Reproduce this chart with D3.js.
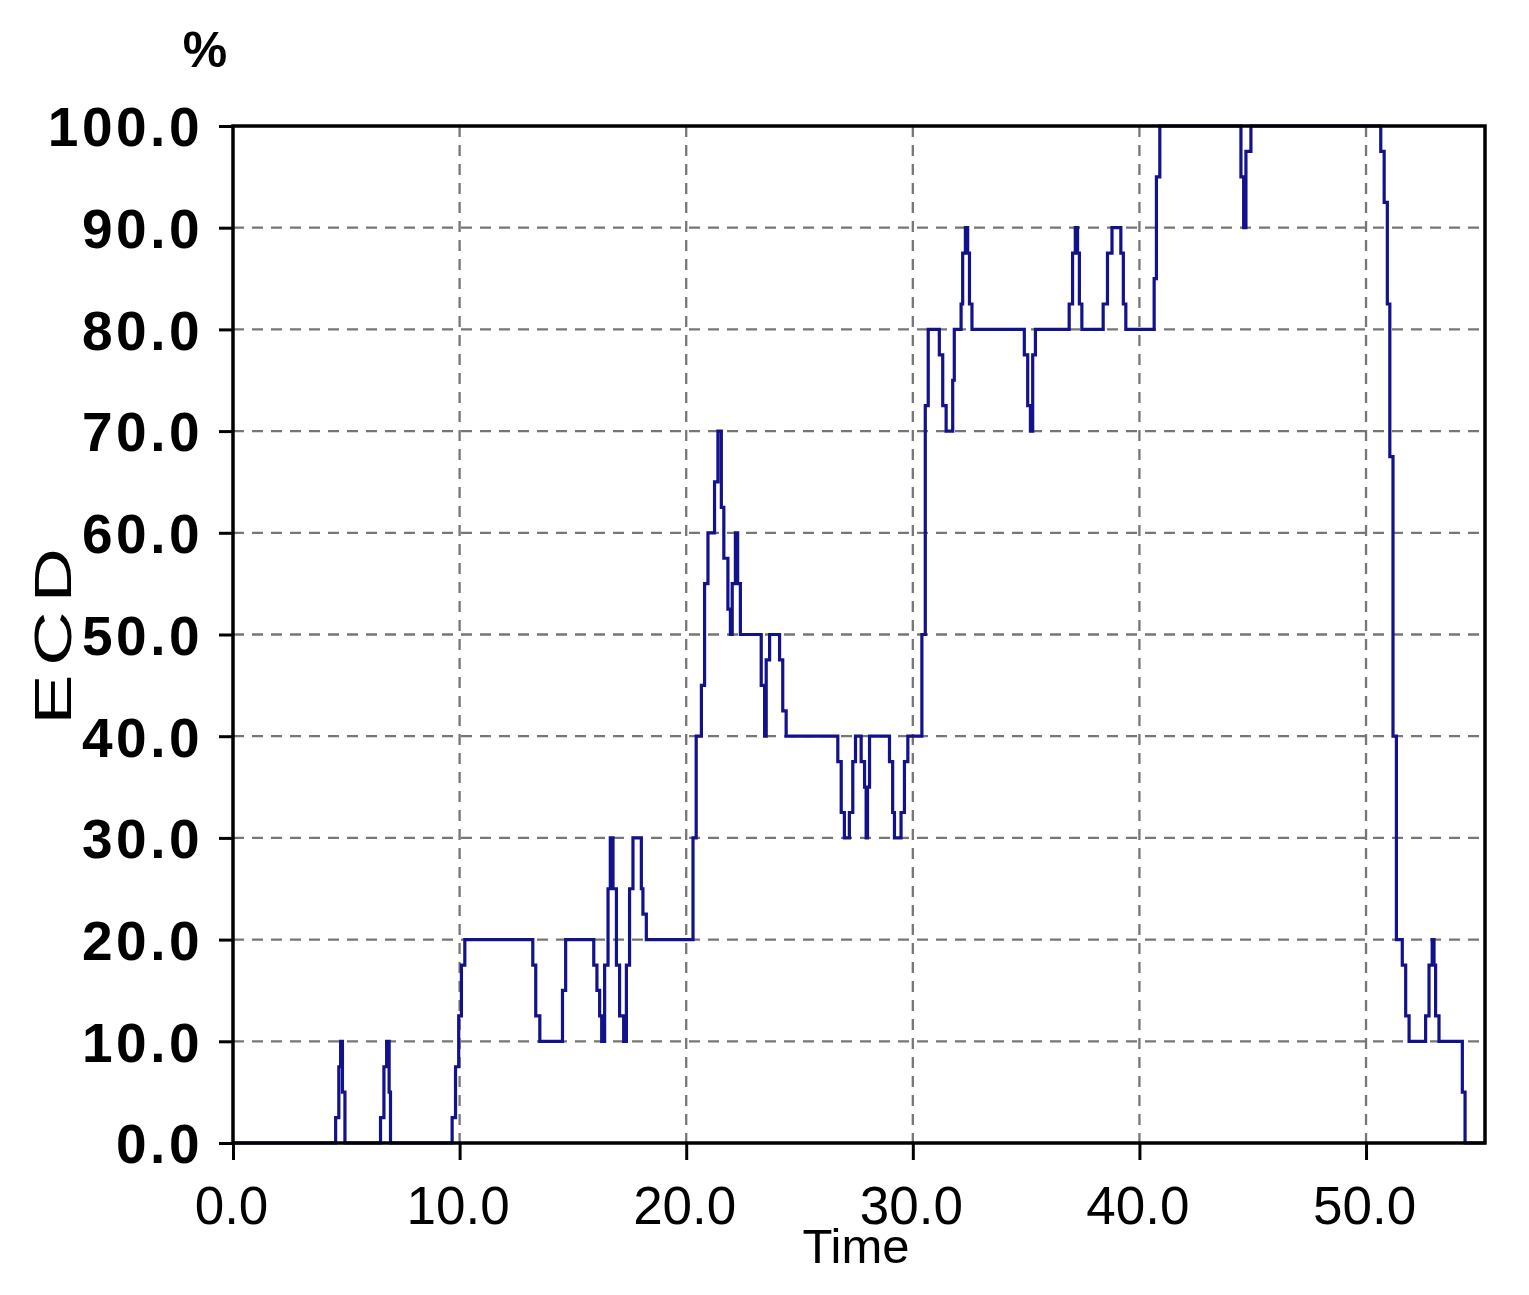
<!DOCTYPE html>
<html>
<head>
<meta charset="UTF-8">
<title>ECD over time</title>
<style>
    body { margin: 0; padding: 0; background: #fff; }
    svg { display: block; }
    .ytick text { font-family: "Liberation Sans", Arial, sans-serif; font-weight: bold; font-size: 55px; letter-spacing: 3.5px; }
    .xtick text { font-family: "Liberation Sans", Arial, sans-serif; font-size: 53px; }
</style>
</head>
<body>
<svg width="1529" height="1295"></svg>
<script src="https://d3js.org/d3.v7.min.js"></script>
<script>
// time at which the value steps to the new level
var times = [0, 4.53, 4.67, 4.75, 4.83, 4.94,
    6.51, 6.66, 6.78, 6.89, 6.95,
    9.67, 9.82, 9.96, 10.08, 10.23,
    13.23, 13.36, 13.54, 14.54, 14.68,
    15.92, 16.06, 16.18, 16.27, 16.40, 16.55, 16.65, 16.77, 16.92, 17.06, 17.24,
    17.36, 17.50, 17.65, 18.02, 18.09, 18.24,
    20.30, 20.44, 20.67, 20.81, 20.96, 21.25, 21.40, 21.55, 21.66, 21.84, 21.95,
    22.03, 22.17, 22.27, 22.39, 23.31, 23.46, 23.53, 23.68, 24.12, 24.26, 24.41,
    26.69, 26.84, 26.98, 27.20, 27.35, 27.47, 27.72, 27.87, 27.94, 28.00, 28.09,
    28.97, 29.11, 29.19, 29.48, 29.63, 29.78, 30.40, 30.55, 30.68,
    31.17, 31.32, 31.47, 31.76, 31.83, 32.13, 32.20, 32.32, 32.42, 32.50, 32.61,
    34.92, 35.07, 35.19, 35.29, 35.41, 36.90, 37.05, 37.17, 37.27, 37.35, 37.46,
    38.40, 38.59, 38.79, 39.18, 39.29, 39.40, 40.65, 40.75, 40.90,
    44.48, 44.60, 44.70, 44.92,
    50.65, 50.80, 50.94, 51.05, 51.19, 51.34, 51.60, 51.75, 51.90,
    52.63, 52.78, 52.92, 53.00, 53.07, 53.22, 54.25, 54.37, 55.25];
var ecd = [0, 2.5, 7.5, 10, 5, 0,
    2.5, 7.5, 10, 5, 0,
    2.5, 7.5, 12.5, 17.5, 20,
    17.5, 12.5, 10, 15, 20,
    17.5, 15, 12.5, 10, 17.5, 25, 30, 25, 17.5, 12.5, 10,
    17.5, 25, 30, 25, 22.5, 20,
    30, 40, 45, 55, 60, 65, 70, 62.5, 57.5, 52.5, 50,
    55, 60, 55, 50, 45, 40, 47.5, 50, 47.5, 42.5, 40,
    37.5, 32.5, 30, 32.5, 37.5, 40, 37.5, 35, 30, 35, 40,
    37.5, 32.5, 30, 32.5, 37.5, 40, 50, 72.5, 80,
    77.5, 72.5, 70, 75, 80, 82.5, 87.5, 90, 87.5, 82.5, 80,
    77.5, 72.5, 70, 77.5, 80, 82.5, 87.5, 90, 87.5, 82.5, 80,
    82.5, 87.5, 90, 87.5, 82.5, 80, 85, 95, 100,
    95, 90, 97.5, 100,
    97.5, 92.5, 82.5, 67.5, 40, 20, 17.5, 12.5, 10,
    12.5, 17.5, 20, 17.5, 12.5, 10, 5, 0, 0];

var xTicks = [0, 10, 20, 30, 40, 50];
var yTicks = [0, 10, 20, 30, 40, 50, 60, 70, 80, 90, 100];

var svg = d3.select("svg"),
    plotLeft = 233, plotRight = 1485, plotTop = 126, plotBottom = 1143;

var x = d3.scaleLinear().domain([0, 55.25]).range([plotLeft, plotRight]);
var y = d3.scaleLinear().domain([0, 100]).range([plotBottom, plotTop]);

var data = times.map(function (t, i) { return [t, ecd[i]]; });

// grid
var grid = svg.append("g")
    .attr("stroke", "#767676")
    .attr("stroke-width", 2.3)
    .attr("stroke-dasharray", "11,8");
grid.selectAll("line.h")
    .data(yTicks.filter(function (d) { return d > 0 && d < 100; }))
    .enter().append("line")
    .attr("x1", plotLeft).attr("x2", plotRight)
    .attr("y1", function (d) { return y(d); })
    .attr("y2", function (d) { return y(d); });
grid.selectAll("line.v")
    .data(xTicks.filter(function (d) { return d > 0; }))
    .enter().append("line")
    .attr("y1", plotTop).attr("y2", plotBottom)
    .attr("x1", function (d) { return x(d); })
    .attr("x2", function (d) { return x(d); });

// data line
svg.append("path")
    .datum(data)
    .attr("fill", "none")
    .attr("stroke", "#12128c")
    .attr("stroke-width", 3.2)
    .attr("d", d3.line()
        .curve(d3.curveStepAfter)
        .x(function (d) { return x(d[0]); })
        .y(function (d) { return y(d[1]); }));

// frame
svg.append("rect")
    .attr("x", plotLeft).attr("y", plotTop)
    .attr("width", plotRight - plotLeft).attr("height", plotBottom - plotTop)
    .attr("fill", "none")
    .attr("stroke", "#000")
    .attr("stroke-width", 3.5);

// axes
var yAxis = svg.append("g")
    .attr("class", "ytick")
    .attr("transform", "translate(" + plotLeft + ",0)")
    .call(d3.axisLeft(y).tickValues(yTicks).tickFormat(d3.format(".1f"))
        .tickSize(14).tickPadding(20));
yAxis.select(".domain").remove();
yAxis.selectAll("line").attr("stroke", "#000").attr("stroke-width", 3);
yAxis.selectAll("text").attr("fill", "#000").attr("dy", "0.36em").attr("dx", "4");

var xAxis = svg.append("g")
    .attr("class", "xtick")
    .attr("transform", "translate(0," + plotBottom + ")")
    .call(d3.axisBottom(x).tickValues(xTicks).tickFormat(d3.format(".1f"))
        .tickSize(17).tickPadding(26));
xAxis.select(".domain").remove();
xAxis.selectAll("line").attr("stroke", "#000").attr("stroke-width", 3);
xAxis.selectAll("text").attr("fill", "#000").attr("dx", "-2");

// titles
svg.append("text")
    .attr("x", 856).attr("y", 1263)
    .attr("text-anchor", "middle")
    .style("font-family", "Liberation Sans, Arial, sans-serif")
    .style("font-size", "49px")
    .text("Time");

svg.append("text")
    .attr("x", 205).attr("y", 67)
    .attr("text-anchor", "middle")
    .style("font-family", "Liberation Sans, Arial, sans-serif")
    .style("font-weight", "bold")
    .style("font-size", "50px")
    .text("%");

svg.append("text")
    .attr("transform", "translate(71,632) rotate(-90) scale(1.45,1)")
    .attr("text-anchor", "middle")
    .style("font-family", "Liberation Sans, Arial, sans-serif")
    .style("font-size", "52px")
    .style("letter-spacing", "6px")
    .text("ECD");
</script>
</body>
</html>
